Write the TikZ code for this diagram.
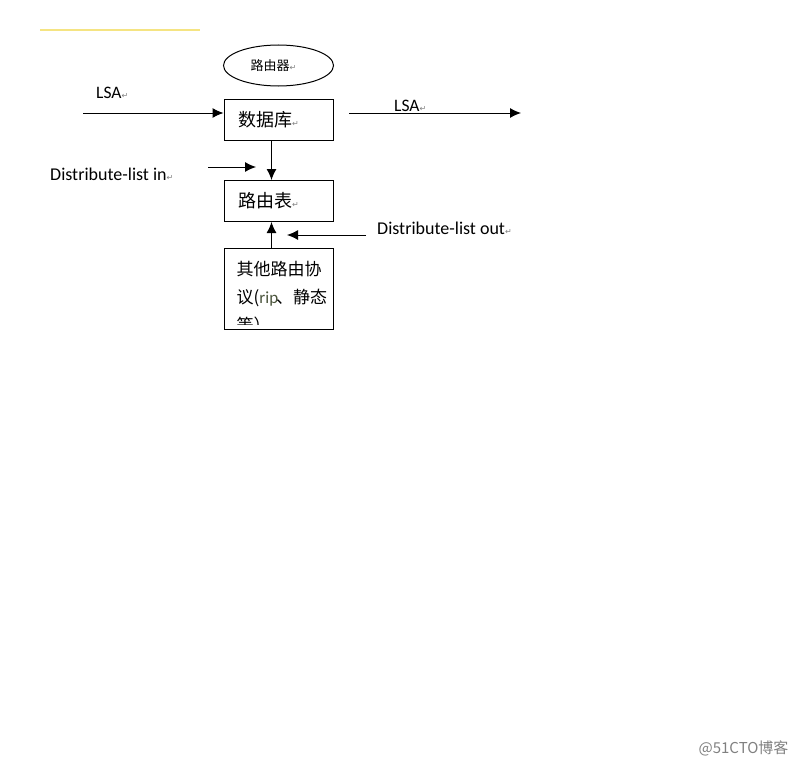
\documentclass[tikz,border=0pt]{standalone}
\usepackage{fontspec}
\setmainfont{Carlito}
\newfontfamily\cjk{Noto Sans CJK SC}
\newfontfamily\symb{DejaVu Sans}
\usetikzlibrary{arrows.meta,positioning,shapes.geometric}
\definecolor{strich}{RGB}{245,228,130}
\definecolor{ripgrau}{RGB}{75,85,60}
\newcommand{\parmark}{{\symb\fontsize{8}{8}\selectfont\color{gray}↵}}
\tikzstyle{kasten}=[draw, line width=1pt, minimum width=109pt, minimum height=41pt,
  text width=81pt, inner xsep=14pt, align=left, font=\cjk\fontsize{18}{20}\selectfont]
\tikzstyle{line}=[draw, line width=1pt, -{Latex[length=11pt,width=10pt]}]
\tikzstyle{lab}=[anchor=west, inner sep=0pt, font=\fontsize{18}{20}\selectfont]
\newcommand{\kasten}[2]{node (p#1)[kasten]{#2}}

\begin{document}
\begin{tikzpicture}[x=1pt,y=-1pt]
	\useasboundingbox (0,0) rectangle (800,768);
	\draw[strich, line width=1.5pt] (40,30) -- (200,30);

	% Draw diagram elements
	\node (p0)[ellipse, draw, line width=1pt, minimum width=110pt, minimum height=41pt,
	  font=\cjk\fontsize{13}{15}\selectfont] at (278.5,65.5) {路由器\parmark\hspace*{10pt}};
	\path (278.5,119.5) \kasten{1}{数据库\parmark};
	\path (p1.south)+(0,60.5) \kasten{2}{路由表\parmark};
	\path (p2.south)+(0,67) node (p3)[kasten, minimum height=81pt]{};
	\begin{scope}
		\clip (p3.north west) rectangle ([yshift=6pt]p3.south east);
		\node (p4)[anchor=north west, text width=95pt, align=left, inner sep=0pt,
		  font=\cjk\fontsize{17}{28}\selectfont] at ([xshift=13pt,yshift=-13pt]p3.north west)
		  {其他路由协\\议({\rmfamily\color{ripgrau}rip}\kern-2pt、静态\\等）\parmark};
	\end{scope}

	% free ends
	\coordinate (a0) at (83,113);
	\coordinate (b0) at (349,113);
	\coordinate (b1) at (521,113);
	\coordinate (c0) at (208,167);
	\coordinate (c1) at (256,167);
	\coordinate (d0) at (366,235);
	\coordinate (d1) at (287,235);

	% labels
	\node (l1)[lab, font=\fontsize{17.5}{20}\selectfont] at (96,93) {LSA\parmark};
	\node (l2)[lab, font=\fontsize{17.5}{20}\selectfont] at (394,106) {LSA\parmark};
	\node (l3)[lab] at (50,174) {Distribute-list in\parmark};
	\node (l4)[lab] at (377,228) {Distribute-list out\parmark};
	\node (wm)[anchor=east, text=gray, font=\cjk\fontsize{15}{17}\selectfont] at (792,748) {@51CTO博客};

	% Draw arrows between elements
	\path [line] (a0) -- (a0 -| p1.west);
	\path [line] (b0) -- (b1);
	\path [line] ([xshift=-7pt]p1.south) -- ([xshift=-7pt]p2.north);
	\path [line] (c0) -- (c1);
	\path [line] ([xshift=-7pt]p3.north) -- ([xshift=-7pt]p2.south);
	\path [line] (d0) -- (d1);
\end{tikzpicture}
\end{document}
